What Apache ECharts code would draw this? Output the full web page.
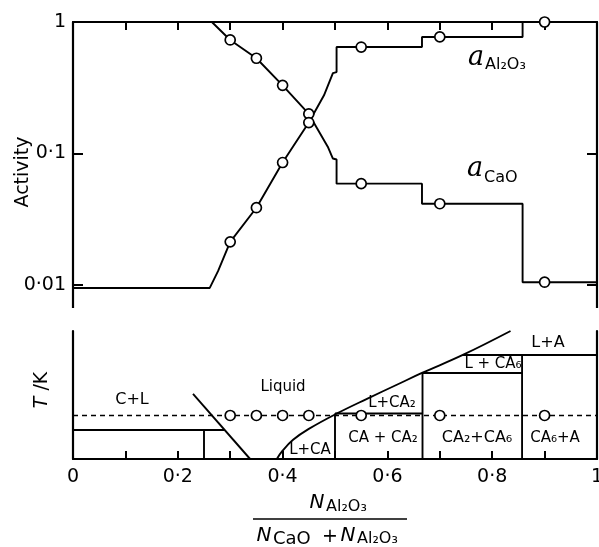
<!DOCTYPE html>
<html>
<head>
<meta charset="utf-8">
<title>Activities in CaO-Al2O3</title>
<script src="https://cdn.jsdelivr.net/npm/echarts@6/dist/echarts.min.js"></script>
<style>
  html, body { margin: 0; padding: 0; background: #fff; }
  #chart { width: 599px; height: 547px; }
</style>
</head>
<body>
<div id="chart"></div>
<script>
// measured points (open circles), x = N_Al2O3 / (N_CaO + N_Al2O3)
const xMeasured = [0.3, 0.35, 0.4, 0.45, 0.55, 0.7, 0.9];
const aCaO = [0.73, 0.53, 0.33, 0.2, 0.059, 0.0415, 0.0105];
const aAl2O3 = [0.0213, 0.0387, 0.0854, 0.172, 0.645, 0.77, 1.0];

// traced activity curves
const caoLineX = [0, 0.265, 0.3, 0.35, 0.4, 0.45, 0.466, 0.487, 0.496, 0.503, 0.503, 0.666, 0.666, 0.858, 0.858, 1];
const caoLineY = [1, 1, 0.73, 0.53, 0.33, 0.2, 0.155, 0.111, 0.0916, 0.09, 0.059, 0.059, 0.0415, 0.0415, 0.0105, 0.0105];
const alLineX = [0, 0.261, 0.277, 0.3, 0.35, 0.4, 0.45, 0.466, 0.479, 0.496, 0.503, 0.503, 0.666, 0.666, 0.858, 0.858, 1];
const alLineY = [0.0095, 0.0095, 0.0128, 0.0213, 0.0387, 0.0854, 0.172, 0.224, 0.277, 0.408, 0.416, 0.645, 0.645, 0.77, 0.77, 1, 1];

// phase diagram, T in arbitrary units (axis has no numbers)
const liqCaX = [0.229, 0.338];
const liqCaT = [50.8, 0];
const liqAlX = [0.389, 0.40, 0.42, 0.45, 0.502, 0.561, 0.618, 0.666, 0.744, 0.835];
const liqAlT = [0, 6.5, 15, 23.5, 35.2, 47, 58, 67.2, 81.3, 100];
const boundX = [[0, 0.289], [0.25, 0.25], [0.5, 0.5], [0.5, 0.667], [0.667, 0.667], [0.667, 0.857], [0.857, 0.857], [0.744, 1]];
const boundT = [[22.7, 22.7], [0, 22.7], [0, 35.5], [35.5, 35.5], [0, 67.2], [67.2, 67.2], [0, 81.3], [81.3, 81.3]];
const runT = 34; // temperature of the measurements

const FONT = 'DejaVu Sans';
const pairs = (xs, ys) => xs.map((x, i) => [x, ys[i]]);
const dotLabel = v => String(+(+v).toPrecision(3)).replace('.', '\u00b7');

const black = { color: '#000', width: 1.9 };
const circle = {
  type: 'scatter', symbol: 'circle', symbolSize: 10, z: 5,
  itemStyle: { color: '#fff', borderColor: '#000', borderWidth: 1.7, opacity: 1 }
};

const spine = { show: true, onZero: false, lineStyle: { color: '#000', width: 2.2 } };

const chart = echarts.init(document.getElementById('chart'), null, { renderer: 'canvas' });

const series = [
  { type: 'line', xAxisIndex: 0, yAxisIndex: 0, data: pairs(caoLineX, caoLineY), symbol: 'none', lineStyle: black, clip: false },
  { type: 'line', xAxisIndex: 0, yAxisIndex: 0, data: pairs(alLineX, alLineY), symbol: 'none', lineStyle: black, clip: false },
  Object.assign({ xAxisIndex: 0, yAxisIndex: 0, data: pairs(xMeasured, aCaO) }, circle),
  Object.assign({ xAxisIndex: 0, yAxisIndex: 0, data: pairs(xMeasured, aAl2O3) }, circle),

  { type: 'line', xAxisIndex: 1, yAxisIndex: 2, data: pairs(liqCaX, liqCaT), symbol: 'none', lineStyle: black },
  { type: 'line', xAxisIndex: 1, yAxisIndex: 2, data: pairs(liqAlX, liqAlT), symbol: 'none', smooth: 0.4, lineStyle: black, clip: false },
  { type: 'line', xAxisIndex: 1, yAxisIndex: 2, data: [[0, runT], [1, runT]], symbol: 'none',
    lineStyle: { color: '#000', width: 1.4, type: [5, 4] } },
  Object.assign({ xAxisIndex: 1, yAxisIndex: 2, data: xMeasured.map(x => [x, runT]) }, circle)
];
boundX.forEach((xs, i) => {
  series.push({ type: 'line', xAxisIndex: 1, yAxisIndex: 2, data: pairs(xs, boundT[i]), symbol: 'none', lineStyle: black });
});

// region names in the phase diagram: text, centre x, centre y, font size
const regions = [
  ['C+L', 132, 400, 16], ['Liquid', 283, 387, 15], ['L+CA', 310, 450, 15],
  ['L+CA\u2082', 392, 403, 15], ['CA + CA\u2082', 383, 438, 15], ['CA\u2082+CA\u2086', 477, 438, 16],
  ['CA\u2086+A', 555, 438, 15], ['L + CA\u2086', 493, 364, 15], ['L+A', 548, 343, 16]
];

const txt = (text, x, y, size, extra) => ({
  type: 'text', x: x, y: y, z: 10,
  style: Object.assign({ text: text, fontSize: size, fontFamily: FONT, fill: '#000', align: 'center', verticalAlign: 'middle' }, extra || {})
});
const italic = { fontStyle: 'italic' };
const left = { align: 'left' };

const graphic = [
  // left / right spines continue a little below 0.01
  { type: 'line', shape: { x1: 73, y1: 285, x2: 73, y2: 308 }, style: { stroke: '#000', lineWidth: 2.2 } },
  { type: 'line', shape: { x1: 597, y1: 285, x2: 597, y2: 308 }, style: { stroke: '#000', lineWidth: 2.2 } },
  Object.assign(txt('Activity', 23, 172, 19), { rotation: Math.PI / 2 }),
  Object.assign(txt('{i|T} /K', 42, 390, 19, { rich: { i: { fontStyle: 'italic', fontSize: 19, fontFamily: FONT } } }), { rotation: Math.PI / 2 }),
  txt('a', 476, 58, 27, { fontFamily: 'DejaVu Serif', fontStyle: 'italic' }),
  txt('Al\u2082O\u2083', 485, 65, 16, left),
  txt('a', 475, 169, 27, { fontFamily: 'DejaVu Serif', fontStyle: 'italic' }),
  txt('CaO', 484, 178, 16, left),
  // x title as a fraction
  txt('N', 317, 503, 20, italic),
  txt('Al\u2082O\u2083', 326, 507, 16, left),
  { type: 'line', shape: { x1: 253, y1: 519, x2: 407, y2: 519 }, style: { stroke: '#000', lineWidth: 1.6 } },
  txt('N', 264, 536, 20, italic),
  txt('CaO', 273, 539, 18, left),
  txt('+', 330, 537, 19),
  txt('N', 348, 536, 20, italic),
  txt('Al\u2082O\u2083', 357, 539, 16, left)
];
regions.forEach(r => graphic.push(txt(r[0], r[1], r[2], r[3])));

chart.setOption({
  backgroundColor: '#fff',
  animation: false,
  grid: [
    { left: 73, right: 2, top: 22, height: 263, outerBoundsMode: 'none', containLabel: false },
    { left: 73, right: 2, top: 331, height: 128, outerBoundsMode: 'none', containLabel: false }
  ],
  xAxis: [
    { gridIndex: 0, type: 'value', position: 'top', min: 0, max: 1, interval: 0.1,
      axisLine: spine, axisTick: { inside: true, length: 8, lineStyle: { color: '#000', width: 2 } },
      axisLabel: { show: false }, splitLine: { show: false } },
    { gridIndex: 1, type: 'value', position: 'bottom', min: 0, max: 1, interval: 0.1,
      axisLine: spine, axisTick: { inside: true, length: 8, lineStyle: { color: '#000', width: 2 } },
      axisLabel: { color: '#000', fontSize: 19, fontFamily: FONT, margin: 9, hideOverlap: false,
        formatter: v => (Math.round(v * 10) % 2 === 0 ? dotLabel(v) : '') },
      splitLine: { show: false } }
  ],
  yAxis: [
    { gridIndex: 0, type: 'log', logBase: 10, min: 0.01, max: 1, position: 'left',
      axisLine: spine, axisTick: { inside: true, length: 10, lineStyle: { color: '#000', width: 2 } },
      axisLabel: { color: '#000', fontSize: 19, fontFamily: FONT, margin: 7, formatter: dotLabel },
      splitLine: { show: false } },
    { gridIndex: 0, type: 'log', logBase: 10, min: 0.01, max: 1, position: 'right',
      axisLine: spine, axisTick: { inside: true, length: 10, lineStyle: { color: '#000', width: 2 } },
      axisLabel: { show: false }, splitLine: { show: false } },
    { gridIndex: 1, type: 'value', min: 0, max: 100, position: 'left',
      axisLine: spine, axisTick: { show: false }, axisLabel: { show: false }, splitLine: { show: false } },
    { gridIndex: 1, type: 'value', min: 0, max: 100, position: 'right',
      axisLine: spine, axisTick: { show: false }, axisLabel: { show: false }, splitLine: { show: false } }
  ],
  series: series,
  graphic: graphic
});
</script>
</body>
</html>
